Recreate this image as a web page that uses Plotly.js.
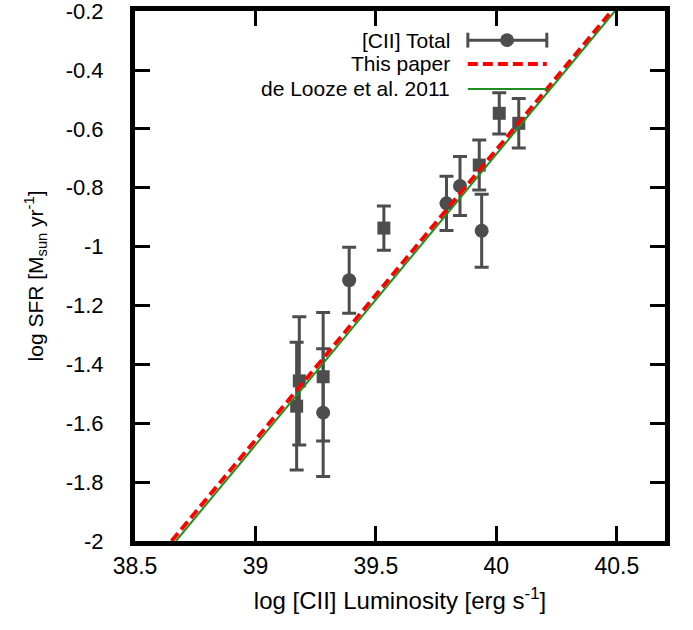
<!DOCTYPE html>
<html>
<head>
<meta charset="utf-8">
<script src="https://cdn.plot.ly/plotly-3.0.1.min.js"></script>
<style>html,body{margin:0;padding:0;background:#fff;}#chart{width:693px;height:630px;}</style>
</head>
<body>
<div id="chart"></div>
<script>
// [CII] Total data points (log L_CII, log SFR, error)
const circX = [39.281, 39.389, 39.849, 39.793, 39.939];
const circY = [-1.564, -1.114, -0.794, -0.853, -0.946];
const circE = [0.217, 0.112, 0.100, 0.092, 0.124];

const sqX = [39.182, 39.171, 39.281, 39.533, 40.012, 40.093, 39.929];
const sqY = [-1.456, -1.542, -1.442, -0.937, -0.547, -0.581, -0.723];
const sqE = [0.218, 0.217, 0.218, 0.075, 0.070, 0.084, 0.085];

// Relations (end points)
const paperX = [38.652, 40.478];
const paperY = [-2.0, -0.2];
const loozeX = [38.670, 40.492];
const loozeY = [-2.0, -0.2];

const xTicks = [38.5, 39, 39.5, 40, 40.5];
const xTickText = ['38.5', '39', '39.5', '40', '40.5'];
const yTicks = [-2, -1.8, -1.6, -1.4, -1.2, -1, -0.8, -0.6, -0.4, -0.2];
const yTickText = ['-2', '-1.8', '-1.6', '-1.4', '-1.2', '-1', '-0.8', '-0.6', '-0.4', '-0.2'];

const legendLabels = ['[CII] Total', 'This paper', 'de Looze et al. 2011'];

const gray = '#4d4d4d';
const font = 'Liberation Sans, Arial, Helvetica, sans-serif';

const traces = [
  {
    x: sqX, y: sqY, type: 'scatter', mode: 'markers',
    marker: {symbol: 'square', size: 13, color: gray},
    error_y: {type: 'data', array: sqE, visible: true, color: gray, thickness: 3, width: 7},
    showlegend: false, cliponaxis: true
  },
  {
    x: circX, y: circY, type: 'scatter', mode: 'markers',
    marker: {symbol: 'circle', size: 14, color: gray},
    error_y: {type: 'data', array: circE, visible: true, color: gray, thickness: 3, width: 7},
    showlegend: false, cliponaxis: true
  },
  {
    x: paperX, y: paperY, type: 'scatter', mode: 'lines',
    line: {color: '#ff0000', width: 4, dash: '10px,5px'},
    showlegend: false
  },
  {
    x: loozeX, y: loozeY, type: 'scatter', mode: 'lines',
    line: {color: '#1f8f1f', width: 2},
    showlegend: false
  }
];

// Legend built with annotations/shapes in paper coordinates (text right, sample on right side)
const rowY = [0.945, 0.900, 0.853];
const sx0 = 0.628, sx1 = 0.777, sxm = 0.702;
const annotations = legendLabels.map((t, i) => ({
  text: t, xref: 'paper', yref: 'paper', x: 0.598, y: rowY[i],
  xanchor: 'right', yanchor: 'middle', showarrow: false,
  font: {family: font, size: 21, color: '#000'}
}));
const shapes = [
  {type: 'line', xref: 'paper', yref: 'paper', x0: sx0, x1: sx1, y0: rowY[0], y1: rowY[0], line: {color: gray, width: 3}},
  {type: 'line', xref: 'paper', yref: 'paper', x0: sx0, x1: sx0, y0: rowY[0] - 0.014, y1: rowY[0] + 0.014, line: {color: gray, width: 3}},
  {type: 'line', xref: 'paper', yref: 'paper', x0: sx1, x1: sx1, y0: rowY[0] - 0.014, y1: rowY[0] + 0.014, line: {color: gray, width: 3}},
  {type: 'circle', xref: 'paper', yref: 'paper', x0: sxm - 0.013, x1: sxm + 0.013, y0: rowY[0] - 0.013, y1: rowY[0] + 0.013, fillcolor: gray, line: {color: gray, width: 0}},
  {type: 'line', xref: 'paper', yref: 'paper', x0: sx0, x1: sx1, y0: rowY[1], y1: rowY[1], line: {color: '#ff0000', width: 4, dash: '10px,5px'}},
  {type: 'line', xref: 'paper', yref: 'paper', x0: sx0, x1: sx1, y0: rowY[2], y1: rowY[2], line: {color: '#1f8f1f', width: 2}}
];

const layout = {
  width: 693, height: 630,
  margin: {l: 135, r: 28, t: 11, b: 89, pad: 0},
  paper_bgcolor: '#fff', plot_bgcolor: '#fff',
  font: {family: font, size: 22, color: '#000'},
  showlegend: false,
  xaxis: {
    range: [38.5, 40.7], tickvals: xTicks, ticktext: xTickText,
    ticks: 'inside', ticklen: 15, tickwidth: 3, tickcolor: '#000',
    showline: true, linewidth: 5, linecolor: '#000', mirror: 'ticks',
    showgrid: false, zeroline: false, ticklabelstandoff: 0,
    ticklabeloverflow: 'allow',
    tickfont: {family: font, size: 23},
    title: {text: 'log [CII] Luminosity [erg s<sup>-1</sup>]', font: {family: font, size: 24}, standoff: 16}
  },
  yaxis: {
    range: [-2, -0.1995], tickvals: yTicks, ticktext: yTickText,
    ticks: 'inside', ticklen: 15, tickwidth: 3, tickcolor: '#000',
    showline: true, linewidth: 5, linecolor: '#000', mirror: 'ticks',
    showgrid: false, zeroline: false, ticklabelstandoff: 22,
    ticklabeloverflow: 'allow',
    tickfont: {family: font, size: 22},
    title: {text: 'log SFR [M<sub>sun</sub> yr<sup>-1</sup>]', font: {family: font, size: 21}, standoff: 18}
  },
  annotations: annotations,
  shapes: shapes
};

Plotly.newPlot('chart', traces, layout, {displayModeBar: false, staticPlot: true});
</script>
</body>
</html>
